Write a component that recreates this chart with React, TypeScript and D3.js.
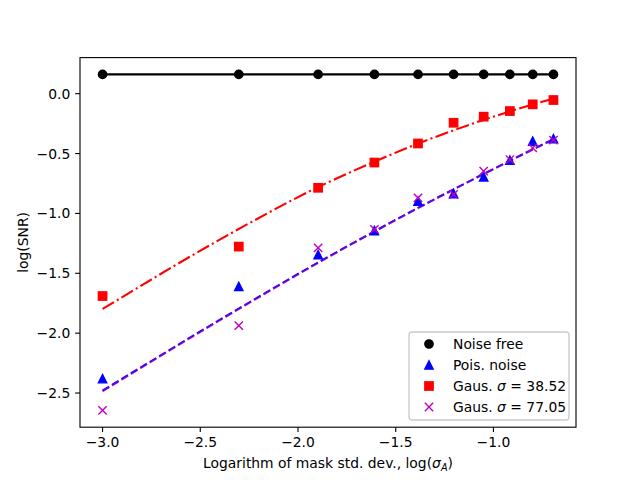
import React from "react";
import * as d3 from "d3";

const logSigma = [-3.0, -2.303, -1.897, -1.609, -1.386, -1.204, -1.05, -0.916, -0.799, -0.693];
const noiseFree = [0.161, 0.161, 0.161, 0.161, 0.161, 0.161, 0.161, 0.161, 0.161, 0.161];
const poisNoise = [-2.38, -1.61, -1.344, -1.143, -0.898, -0.834, -0.694, -0.555, -0.396, -0.376];
const gaus1 = [-1.69, -1.277, -0.786, -0.575, -0.416, -0.243, -0.192, -0.145, -0.089, -0.053];
const gaus2 = [-2.645, -1.937, -1.288, -1.133, -0.87, -0.842, -0.647, -0.55, -0.452, -0.388];
const fitGaus1 = [-1.798, -1.13, -0.78, -0.568, -0.417, -0.306, -0.219, -0.148, -0.091, -0.041];
const fitPois = [-2.481, -1.795, -1.41, -1.15, -0.954, -0.799, -0.67, -0.56, -0.465, -0.38];
const fitGaus2 = [-2.485, -1.8, -1.414, -1.152, -0.956, -0.801, -0.672, -0.562, -0.467, -0.382];
const xTicks = [-3.0, -2.5, -2.0, -1.5, -1.0];
const yTicks = [0.0, -0.5, -1.0, -1.5, -2.0, -2.5];
const legendLabels = ["Noise free", "Pois. noise", "Gaus. ", "Gaus. "];
const legendSigmas = ["", "", "38.52", "77.05"];

const W = 640;
const H = 480;
const left = 80;
const right = 576;
const top = 57.6;
const bottom = 427.2;
const FONT = "DejaVu Sans, sans-serif";
const PX = 100 / 72;

function pad(ext: [number, number]): [number, number] {
  const r = ext[1] - ext[0];
  return [ext[0] - 0.05 * r, ext[1] + 0.05 * r];
}

function fmt(v: number) {
  const s = v.toFixed(1);
  return s.replace("-", "\u2212");
}

export default function App() {
  const allY = [...noiseFree, ...poisNoise, ...gaus1, ...gaus2, ...fitGaus1, ...fitPois, ...fitGaus2];
  const x = d3.scaleLinear().domain(pad(d3.extent(logSigma) as [number, number])).range([left, right]);
  const y = d3.scaleLinear().domain(pad(d3.extent(allY) as [number, number])).range([bottom, top]);

  const line = (vals: number[], curve = d3.curveLinear) =>
    d3
      .line<number>()
      .x((_, i) => x(logSigma[i]))
      .y((d) => y(d))
      .curve(curve)(vals) || "";

  const ms = 6 * PX; // marker size
  const lw = 1.5 * PX;
  const tickLen = 3.5 * PX;

  const circle = (cx: number, cy: number, key: any) => (
    <circle key={key} cx={cx} cy={cy} r={ms / 2} fill="black" stroke="black" strokeWidth={PX} />
  );
  const tri = (cx: number, cy: number, key: any) => (
    <path
      key={key}
      d={`M${cx},${cy - ms / 2}L${cx - ms / 2},${cy + ms / 2}L${cx + ms / 2},${cy + ms / 2}Z`}
      fill="blue"
      stroke="blue"
      strokeWidth={PX}
      strokeLinejoin="miter"
    />
  );
  const sq = (cx: number, cy: number, key: any) => (
    <rect key={key} x={cx - ms / 2} y={cy - ms / 2} width={ms} height={ms} fill="red" stroke="red" strokeWidth={PX} />
  );
  const cross = (cx: number, cy: number, key: any) => (
    <path
      key={key}
      d={`M${cx - ms / 2},${cy - ms / 2}L${cx + ms / 2},${cy + ms / 2}M${cx - ms / 2},${cy + ms / 2}L${cx + ms / 2},${cy - ms / 2}`}
      stroke="#bf00bf"
      strokeWidth={PX}
      fill="none"
    />
  );

  const legX = 409;
  const legY = 332;
  const legW = 160;
  const legH = 88;
  const rowY = [344, 365, 386, 407];
  const markerFns = [circle, tri, sq, cross];

  return (
    <svg
      width={W}
      height={H}
      style={{ position: "absolute", left: 0, top: 0, background: "white" }}
      fontFamily={FONT}
    >
      <rect x={0} y={0} width={W} height={H} fill="white" />
      <defs>
        <clipPath id="axclip">
          <rect x={left} y={top} width={right - left} height={bottom - top} />
        </clipPath>
      </defs>
      <g clipPath="url(#axclip)">
        <path d={line(noiseFree)} fill="none" stroke="black" strokeWidth={lw} />
        <path
          d={line(fitGaus1, d3.curveMonotoneX)}
          fill="none"
          stroke="red"
          strokeWidth={lw}
          strokeDasharray={`${9.6 * PX},${2.4 * PX},${1.5 * PX},${2.4 * PX}`}
        />
        <path
          d={line(fitPois, d3.curveMonotoneX)}
          fill="none"
          stroke="blue"
          strokeWidth={lw}
          strokeDasharray={`${5.55 * PX},${2.4 * PX}`}
        />
        <path
          d={line(fitGaus2, d3.curveMonotoneX)}
          fill="none"
          stroke="#bf00bf"
          strokeOpacity={0.55}
          strokeWidth={lw}
          strokeDasharray={`${5.55 * PX},${2.4 * PX}`}
        />
        {noiseFree.map((v, i) => circle(x(logSigma[i]), y(v), "c" + i))}
        {poisNoise.map((v, i) => tri(x(logSigma[i]), y(v), "t" + i))}
        {gaus1.map((v, i) => sq(x(logSigma[i]), y(v), "s" + i))}
        {gaus2.map((v, i) => cross(x(logSigma[i]), y(v), "x" + i))}
      </g>

      {/* spines */}
      <rect x={left} y={top} width={right - left} height={bottom - top} fill="none" stroke="black" strokeWidth={0.8 * PX} />

      {/* x ticks */}
      {xTicks.map((t) => (
        <g key={"xt" + t}>
          <line x1={x(t)} x2={x(t)} y1={bottom} y2={bottom + tickLen} stroke="black" strokeWidth={0.8 * PX} />
          <text x={x(t)} y={bottom + tickLen + 3.5 * PX + 10.5} textAnchor="middle" fontSize={10 * PX} fill="black">
            {fmt(t)}
          </text>
        </g>
      ))}
      {/* y ticks */}
      {yTicks.map((t) => (
        <g key={"yt" + t}>
          <line x1={left - tickLen} x2={left} y1={y(t)} y2={y(t)} stroke="black" strokeWidth={0.8 * PX} />
          <text x={left - tickLen - 3.5 * PX} y={y(t)} dy="0.36em" textAnchor="end" fontSize={10 * PX} fill="black">
            {fmt(t)}
          </text>
        </g>
      ))}

      {/* axis labels */}
      <text x={(left + right) / 2} y={468} textAnchor="middle" fontSize={10 * PX} fill="black">
        Logarithm of mask std. dev., log(
        <tspan fontStyle="italic">σ</tspan>
        <tspan fontStyle="italic" fontSize={7 * PX} dy={2.5}>A</tspan>
        <tspan dy={-2.5}>)</tspan>
      </text>
      <text
        transform={`translate(${28},${(top + bottom) / 2}) rotate(-90)`}
        textAnchor="middle"
        fontSize={10 * PX}
        fill="black"
      >
        log(SNR)
      </text>

      {/* legend */}
      <rect x={legX} y={legY} width={legW} height={legH} rx={3} ry={3} fill="white" fillOpacity={0.8} stroke="#cccccc" strokeWidth={PX} />
      {legendLabels.map((lab, i) => (
        <g key={"lg" + i}>
          {markerFns[i](429, rowY[i], "lm" + i)}
          <text x={453} y={rowY[i]} dy="0.36em" fontSize={10 * PX} fill="black">
            {lab}
            {legendSigmas[i] ? (
              <>
                <tspan fontStyle="italic">σ</tspan>
                <tspan>{" = " + legendSigmas[i]}</tspan>
              </>
            ) : null}
          </text>
        </g>
      ))}
    </svg>
  );
}
